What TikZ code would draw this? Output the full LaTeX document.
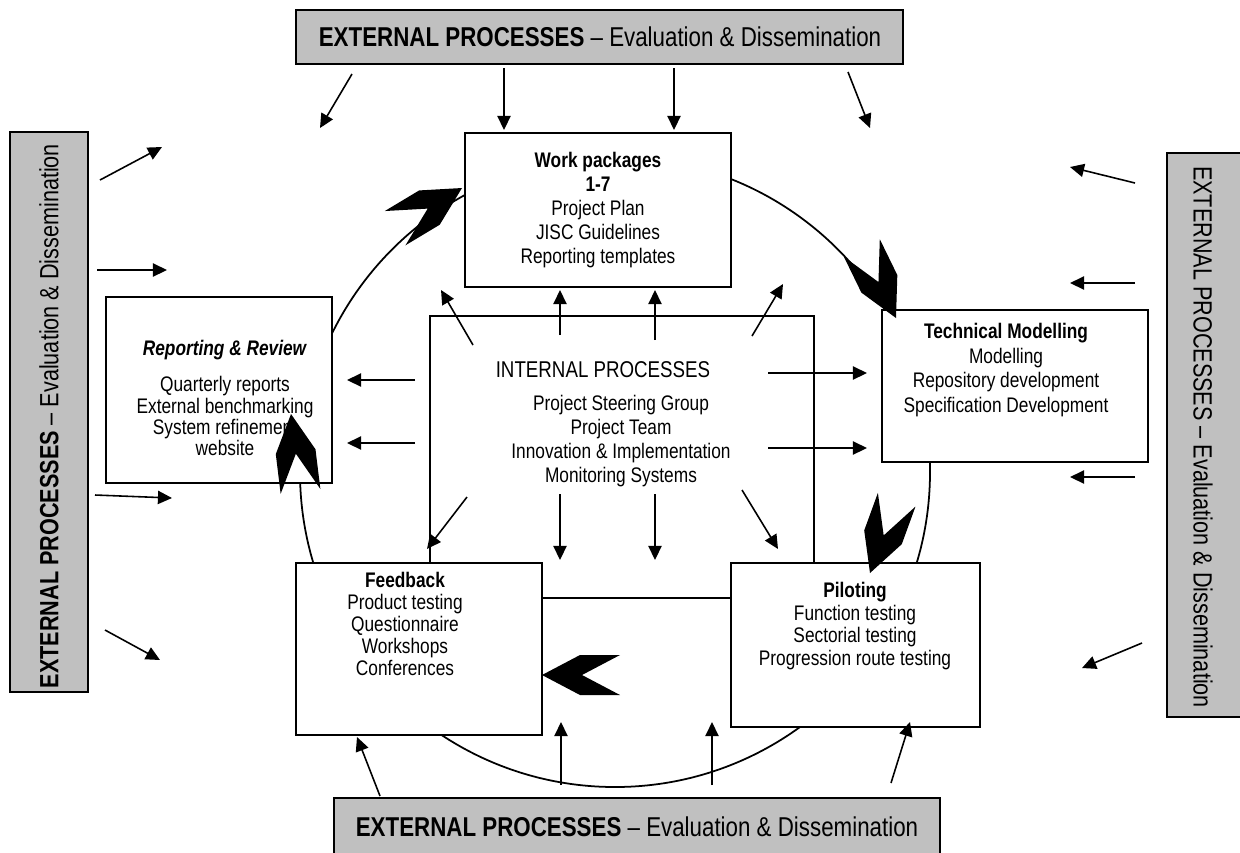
\documentclass[tikz,border=0pt]{standalone}
\usepackage{fontspec}
\setmainfont{Liberation Sans}[FakeStretch=0.82]
\usetikzlibrary{arrows.meta,fit}
\definecolor{boxgray}{RGB}{192,192,192}
\tikzset{
  frame/.style={draw=black, line width=1pt, fill=white, inner sep=0pt},
  ext/.style={draw=black, line width=1pt, fill=boxgray, inner sep=0pt},
  thinarrow/.style={line width=0.9pt, -{Triangle[length=8pt,width=7.5pt]}},
  body/.style={font=\fontsize{12}{13.6}\selectfont, align=center, inner sep=0pt},
  hdr/.style={font=\fontsize{15.5}{18}\selectfont, inner sep=0pt},
  sidehdr/.style={font=\fontsize{15}{18}\selectfont, inner sep=0pt},
  chevfill/.style={fill=black},
}
\newcommand\chevron[3]{\fill[chevfill, shift={(#1,#2)}, rotate=#3] (0,0) -- (-38,20) -- (-78,20) -- (-40,0) -- (-78,-20) -- (-38,-20) -- cycle;}
\begin{document}
\begin{tikzpicture}[x=0.2mm, y=-0.2mm]
\useasboundingbox (0,0) rectangle (1240,852);
% circle of the cycle
\coordinate (cc) at (615,472);
\draw[line width=1pt] (cc) circle [radius=63mm];
% internal box and process boxes
\node[frame, fit={(430,316) (814,598)}] (int) {};
\node[frame, fit={(465,133) (731,287)}] (wp) {};
\node[frame, fit={(106,297) (332,483)}] (rr) {};
\node[frame, fit={(882,310) (1148,462)}] (tm) {};
\node[frame, fit={(296,563) (542,735)}] (fb) {};
\node[frame, fit={(731,563) (980,727)}] (pl) {};
% external boxes
\node[ext, fit={(296,10) (903,64)}] (gt) {};
\node[ext, fit={(334,798) (940,870)}] (gb) {};
\node[ext, fit={(10,132) (88,692)}] (gl) {};
\node[ext, fit={(1167,153) (1250,717)}] (gr) {};
% external texts
\node[hdr] (gtt) at (600,37) {\textbf{EXTERNAL PROCESSES} – Evaluation \& Dissemination};
\node[hdr] (gbt) at (637,827) {\textbf{EXTERNAL PROCESSES} – Evaluation \& Dissemination};
\node[sidehdr, rotate=90] (glt) at (49,416) {\textbf{EXTERNAL PROCESSES} – Evaluation \& Dissemination};
\node[sidehdr, rotate=-90] (grt) at (1203,437) {EXTERNAL PROCESSES – Evaluation \& Dissemination};
% box texts
\node[body] (wpt) at (598,210) {\textbf{Work packages}\\\textbf{1-7}\\Project Plan\\JISC Guidelines\\Reporting templates};
\node[body] (rrh) at (225,350) {\textbf{\textit{Reporting \& Review}}};
\node[body, font=\fontsize{12}{12}\selectfont] (rrt) at (225,416) {Quarterly reports\\External benchmarking\\System refinement\\website};
\node[body, font=\fontsize{13}{15}\selectfont] (inth) at (603,370) {INTERNAL PROCESSES};
\node[body] (intt) at (621,441) {Project Steering Group\\Project Team\\Innovation \& Implementation\\Monitoring Systems};
\node[body, font=\fontsize{12}{13.9}\selectfont] (tmt) at (1006,370) {\textbf{Technical Modelling}\\Modelling\\Repository development\\Specification Development};
\node[body, font=\fontsize{12}{12.5}\selectfont] (fbt) at (405,624) {\textbf{Feedback}\\Product testing\\Questionnaire\\Workshops\\Conferences};
\node[body, font=\fontsize{12}{12.8}\selectfont] (plt) at (855,626) {\textbf{Piloting}\\Function testing\\Sectorial testing\\Progression route testing};
% thin arrows
\foreach \n/\ax/\ay/\bx/\by in {
  t1/352/74/320/128, t2/504/68/504/130, t3/674/68/674/130, t4/848/72/870/128,
  l1/100/180/162/147, l2/97/270/167/270, l3/95/495/172/498, l4/105/630/160/660,
  r1/1135/183/1070/167, r2/1135/283/1070/283, r3/1135/477/1070/477, r4/1142/643/1082/668,
  b1/380/796/357/737, b2/561/785/561/722, b3/712/785/712/722, b4/891/783/910/722,
  i1/473/345/441/290, i2/560/335/560/290, i3/655/340/655/290, i4/752/336/783/284,
  i5/415/380/347/380, i6/415/443/347/443, i7/768/373/867/373, i8/768/448/867/448,
  i9/467/497/427/549, i10/560/494/560/560, i11/655/494/655/560, i12/742/490/778/549}
{
  \coordinate (\n a) at (\ax,\ay);
  \coordinate (\n b) at (\bx,\by);
  \draw[thinarrow] (\n a) -- (\n b);
}
% big chevron arrows along the cycle
\chevron{462}{188}{31}
\chevron{896}{318}{-64}
\chevron{542}{675}{180}
\chevron{870}{573}{-110}
\chevron{291}{414}{97}
\end{tikzpicture}
\end{document}
